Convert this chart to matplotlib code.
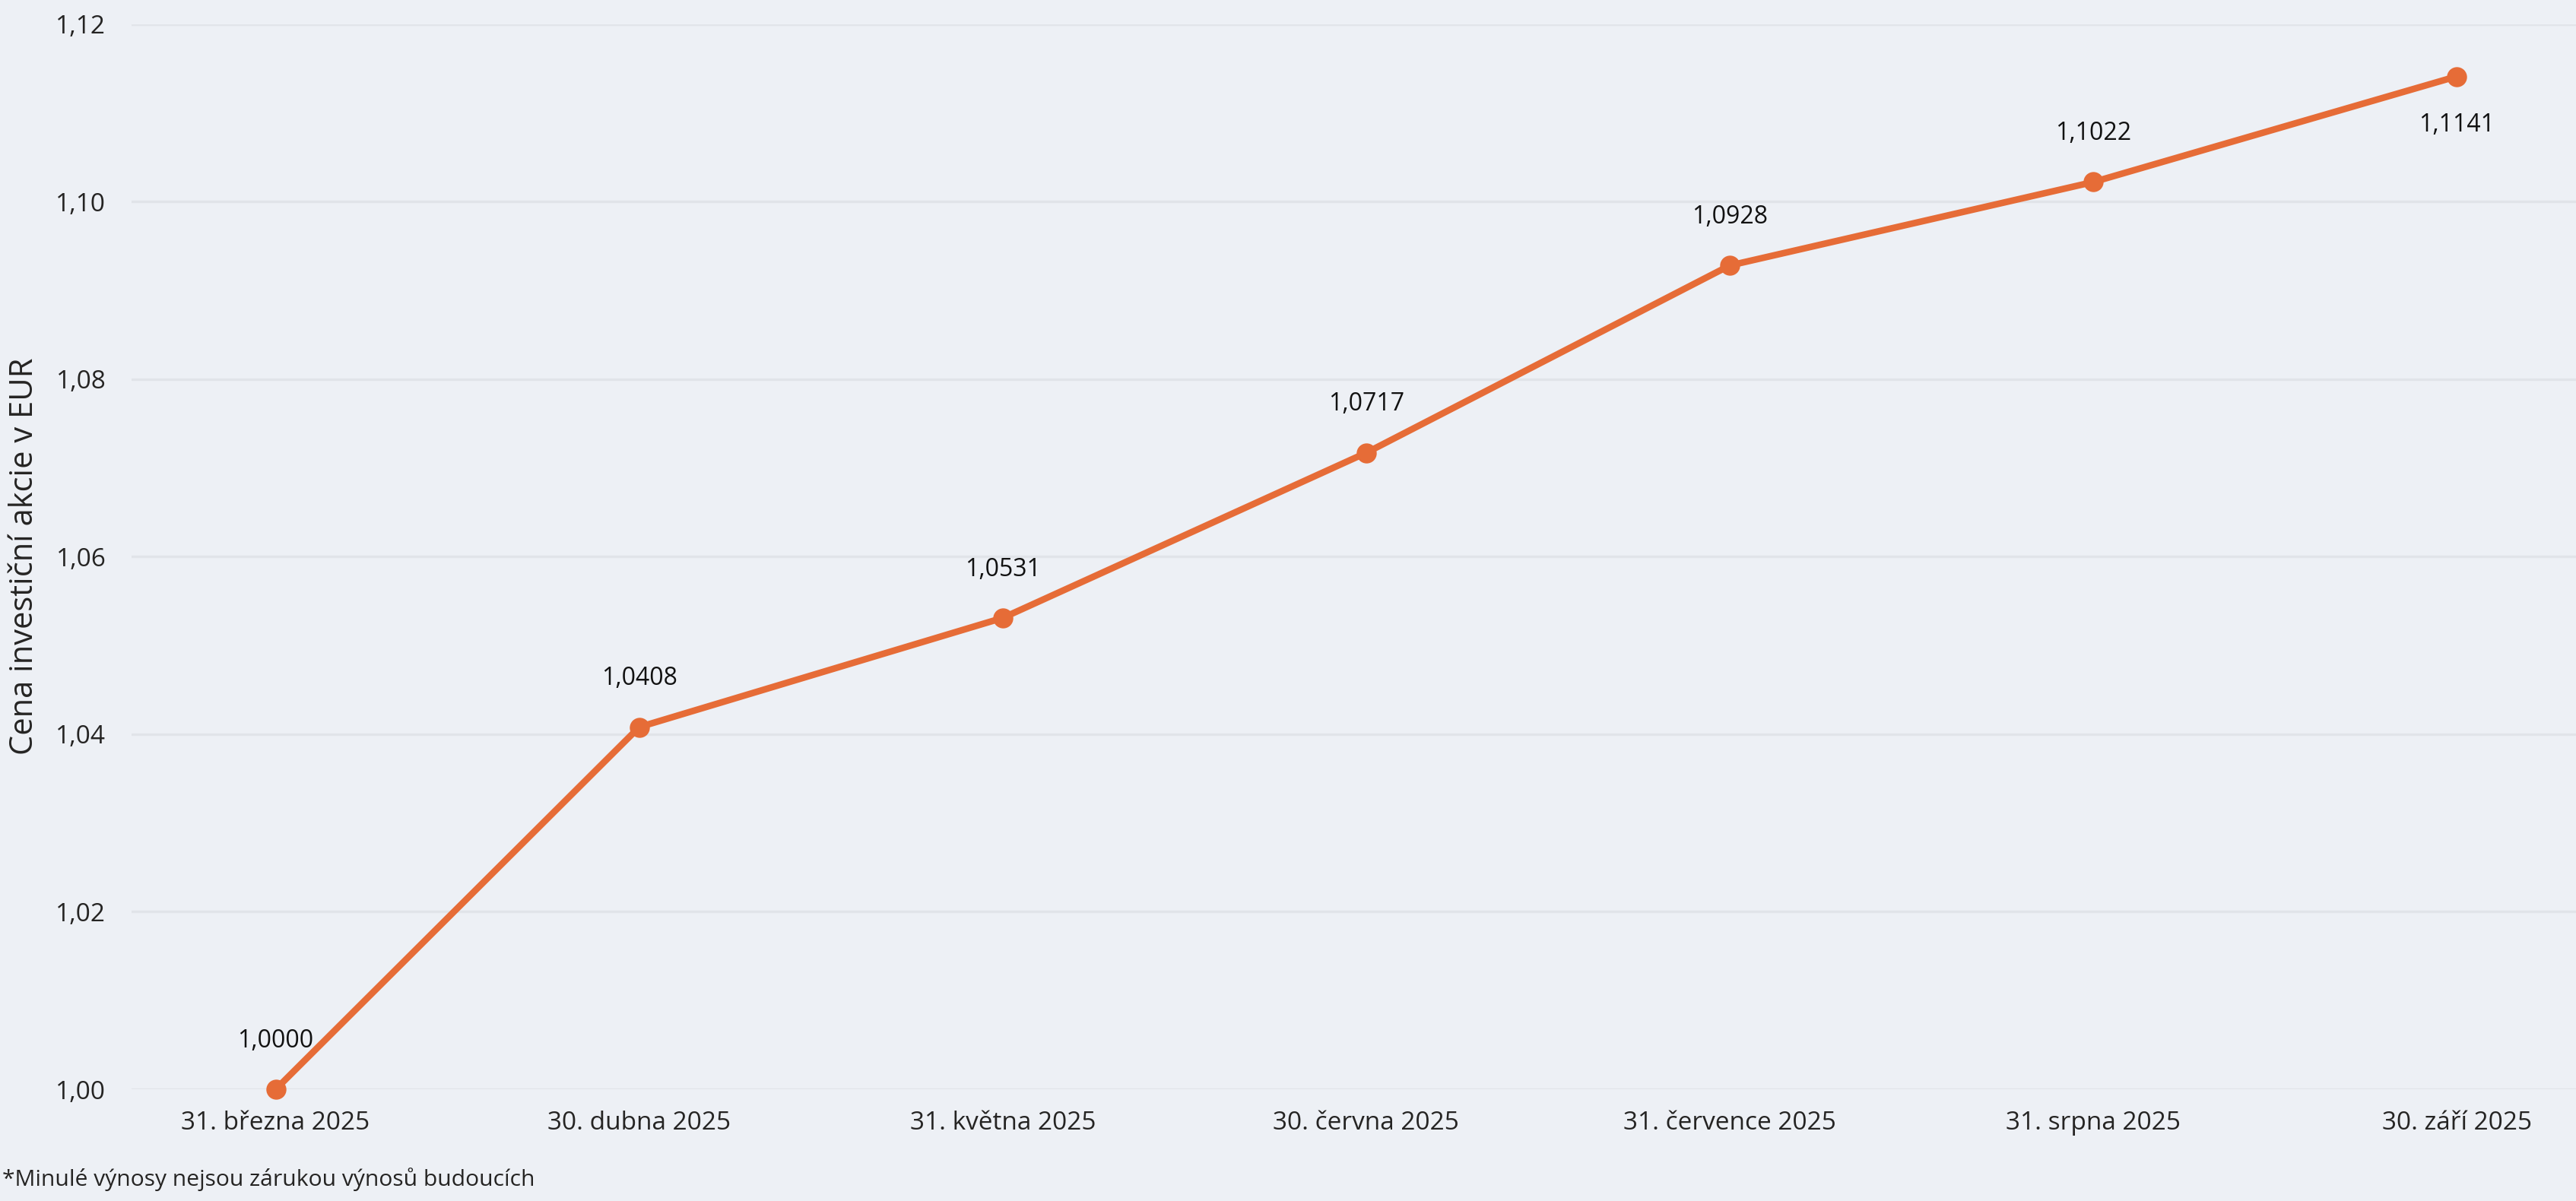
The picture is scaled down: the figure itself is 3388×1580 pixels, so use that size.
import matplotlib
matplotlib.use("Agg")
import matplotlib.pyplot as plt
from matplotlib.ticker import FuncFormatter, MultipleLocator


DATES = ["31. března 2025", "30. dubna 2025", "31. května 2025", "30. června 2025",
         "31. července 2025", "31. srpna 2025", "30. září 2025"]
PRICES = [1.0000, 1.0408, 1.0531, 1.0717, 1.0928, 1.1022, 1.1141]
# the last label sits below its point, the rest above
LABEL_BELOW = [False, False, False, False, False, False, True]

BG = "#edf0f5"
LINE = "#e66c37"
GRID = "#e1e4e9"
TEXT = "#252423"

plt.rcParams["font.family"] = ["Open Sans", "DejaVu Sans"]


def comma(v, _pos=None, digits=2):
    return f"{v:.{digits}f}".replace(".", ",")


def main():
    fig = plt.figure(figsize=(16.94, 7.90), dpi=200, facecolor=BG)
    ax = fig.add_axes([0.051, 0.093, 0.949, 0.887], facecolor=BG)

    xs = list(range(len(DATES)))
    ax.plot(xs, PRICES, color=LINE, lw=3.1, marker="o", ms=8.5, clip_on=False, zorder=3)

    for x, y, below in zip(xs, PRICES, LABEL_BELOW):
        ax.annotate(comma(y, digits=4), (x, y), xytext=(0, -23 if below else 23),
                    textcoords="offset points", ha="center", va="center",
                    fontsize=11.5, color="#111111")

    ax.set_xlim(-0.397, 6.328)
    ax.set_ylim(1.00, 1.12)
    ax.yaxis.set_major_locator(MultipleLocator(0.02))
    ax.yaxis.set_major_formatter(FuncFormatter(comma))
    ax.set_xticks(xs, DATES)

    ax.grid(axis="y", color=GRID, lw=1.2)
    ax.set_axisbelow(True)
    for s in ax.spines.values():
        s.set_visible(False)
    ax.tick_params(length=0, labelsize=12, colors=TEXT)
    ax.tick_params(axis="x", pad=10)
    ax.tick_params(axis="y", pad=12)

    # y title placed on the figure so it is not pushed off the left edge
    fig.text(0.0095, 0.537, "Cena investiční akcie v EUR", rotation=90,
             fontsize=15, color=TEXT, ha="center", va="center")

    fig.text(0.001, 0.018, "*Minulé výnosy nejsou zárukou výnosů budoucích",
             fontsize=10.8, color=TEXT, ha="left", va="center")

    fig.savefig("out.png", dpi=200, facecolor=BG)
    plt.close(fig)


if __name__ == "__main__":
    main()
